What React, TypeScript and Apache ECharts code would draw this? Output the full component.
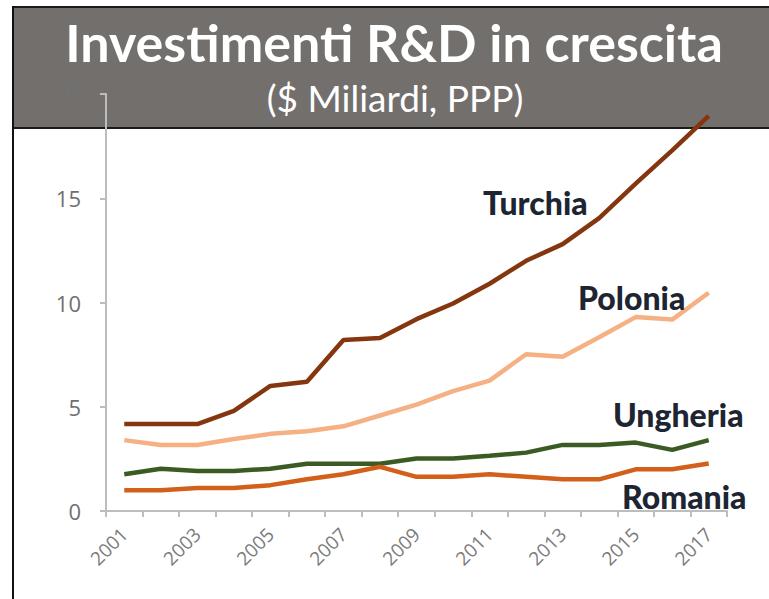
import React, { useEffect, useRef } from "react";
import * as echarts from "echarts";

const years = ["2001","2002","2003","2004","2005","2006","2007","2008","2009","2010","2011","2012","2013","2014","2015","2016","2017"];
const turchia = [4.17, 4.17, 4.17, 4.8, 6.0, 6.2, 8.2, 8.3, 9.2, 9.95, 10.9, 12.0, 12.8, 14.05, 15.7, 17.3, 18.95];
const polonia = [3.4, 3.17, 3.17, 3.45, 3.7, 3.82, 4.06, 4.58, 5.1, 5.75, 6.25, 7.52, 7.4, 8.33, 9.3, 9.18, 10.47];
const ungheria = [1.76, 2.03, 1.92, 1.92, 2.03, 2.27, 2.27, 2.27, 2.52, 2.52, 2.65, 2.8, 3.17, 3.17, 3.28, 2.93, 3.4];
const romania = [1.0, 1.0, 1.1, 1.1, 1.24, 1.52, 1.76, 2.12, 1.64, 1.64, 1.76, 1.64, 1.52, 1.52, 2.0, 2.0, 2.28];
const yTicks = { min: 0, max: 20, interval: 5 };
const seriesNames = ["Turchia", "Polonia", "Ungheria", "Romania"];
const colors = ["#84360f", "#f5b184", "#3a5b23", "#d2601a"];

export default function App() {
  const ref = useRef<HTMLDivElement>(null);
  useEffect(() => {
    if (!ref.current) return;
    const chart = echarts.init(ref.current, null, { renderer: "svg" });
    const data = [turchia, polonia, ungheria, romania];
    const labelFont = "Lato, 'Open Sans', sans-serif";
    chart.setOption({
      animation: false,
      backgroundColor: "#ffffff",
      grid: { left: 106, right: 42, top: 94, bottom: 88, containLabel: false },
      xAxis: {
        type: "category",
        data: years,
        boundaryGap: true,
        axisLine: { lineStyle: { color: "#bdbdbd", width: 2 } },
        axisTick: { show: true, interval: 0, length: 6, lineStyle: { color: "#bdbdbd", width: 2 } },
        axisLabel: {
          interval: 1,
          rotate: 45,
          color: "#7a7a7a",
          fontSize: 19,
          fontFamily: "'Open Sans', sans-serif",
          margin: 20,
        },
      },
      yAxis: {
        type: "value",
        min: yTicks.min,
        max: yTicks.max,
        interval: yTicks.interval,
        splitLine: { show: false },
        axisLine: { show: true, lineStyle: { color: "#bdbdbd", width: 2 } },
        axisTick: { show: true, length: 6, lineStyle: { color: "#bdbdbd", width: 2 } },
        axisLabel: {
          color: "#6f6f6f",
          fontSize: 22,
          fontFamily: "'Open Sans', sans-serif",
          margin: 25,
        },
      },
      series: data.map((d, i) => ({
        name: seriesNames[i],
        type: "line",
        data: d,
        showSymbol: false,
        symbol: "none",
        z: 10,
        lineStyle: { color: colors[i], width: 4.5 },
        itemStyle: { color: colors[i] },
      })),
      graphic: [
        {
          type: "rect",
          z: -10,
          shape: { x: 13, y: 7, width: 760, height: 121 },
          style: { fill: "#736f6d", stroke: "#1a1a1a", lineWidth: 2 },
          silent: true,
        },
        {
          type: "line",
          z: -9,
          shape: { x1: 13, y1: 6, x2: 13, y2: 599 },
          style: { stroke: "#111111", lineWidth: 2 },
        },
        {
          type: "text",
          z: 20,
          x: 394,
          y: 42,
          style: {
            text: "Investimenti R&D in crescita",
            fill: "#ffffff",
            font: "bold 52px Lato, 'Open Sans', sans-serif",
            textAlign: "center",
            textVerticalAlign: "middle",
          },
        },
        {
          type: "text",
          z: 20,
          x: 395,
          y: 97,
          style: {
            text: "($ Miliardi, PPP)",
            fill: "#ffffff",
            font: "37px Lato, 'Open Sans', sans-serif",
            textAlign: "center",
            textVerticalAlign: "middle",
          },
        },
        { type: "text", z: 20, x: 483, y: 202, style: { text: "Turchia", fill: "#1e2532", font: `900 32px ${labelFont}`, textAlign: "left", textVerticalAlign: "middle" } },
        { type: "text", z: 20, x: 578, y: 297, style: { text: "Polonia", fill: "#1e2532", font: `900 32px ${labelFont}`, textAlign: "left", textVerticalAlign: "middle" } },
        { type: "text", z: 20, x: 613, y: 414, style: { text: "Ungheria", fill: "#1e2532", font: `900 32px ${labelFont}`, textAlign: "left", textVerticalAlign: "middle" } },
        { type: "text", z: 20, x: 622, y: 496, style: { text: "Romania", fill: "#1e2532", font: `900 32px ${labelFont}`, textAlign: "left", textVerticalAlign: "middle" } },
      ],
    });
    return () => chart.dispose();
  }, []);
  return (
    <div
      ref={ref}
      style={{ position: "fixed", left: 0, top: 0, width: 769, height: 599 }}
    />
  );
}
